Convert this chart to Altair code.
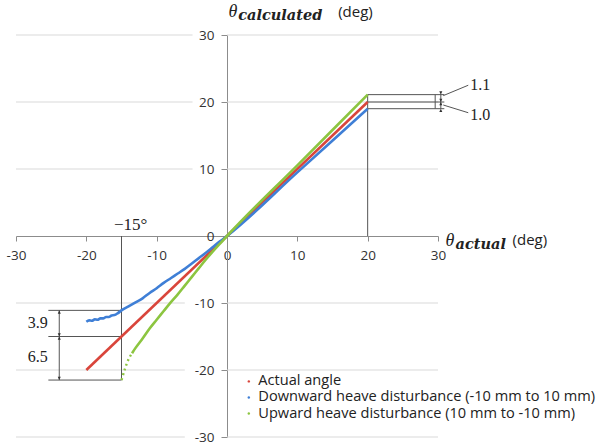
import altair as alt
import pandas as pd

# ---- data ----
actual_x = [-20, 20]
actual_y = [-20, 20]

down_x = [-20, -19.6, -19.2, -18.8, -18.4, -18, -17.6, -17.2, -16.8, -16.4, -16, -15.5, -15,
          -14, -13, -12, -11, -10, -9, -8, -7, -6, -5, -4, -3, -2, -1, 0, 10, 20]
down_y = [-12.8, -12.6, -12.65, -12.45, -12.5, -12.3, -12.3, -12.1, -12.1, -11.85, -11.8, -11.5, -11.1,
          -10.5, -9.9, -9.3, -8.5, -7.8, -7.0, -6.3, -5.6, -4.9, -4.1, -3.3, -2.5, -1.65, -0.8, 0, 9.5, 19.0]

up_x = [-15, -14.5, -14, -13.5, -13, -12, -11, -10, -9, -8, -7, -6, -5, -4, -3, -2, -1, 0, 10, 20]
up_y = [-21.5, -19.8, -18.4, -17.5, -16.7, -15.3, -13.8, -12.5, -11.2, -9.9, -8.7, -7.4, -6.1,
        -4.8, -3.5, -2.3, -1.15, 0, 10.55, 21.1]

series_names = ["Actual angle",
                "Downward heave disturbance (-10 mm to 10 mm)",
                "Upward heave disturbance (10 mm to -10 mm)"]
series_colors = ["#d9453b", "#3f7fd6", "#8cc540"]

tick_values = [-30, -20, -10, 0, 10, 20, 30]
grid_values = [-30, -20, -10, 10, 20, 30]
grid_left_end = [-6.0, -6.0, -6.0, -4.9, -4.9, -4.9]

# dimension values
angle_mark = -15
at_m15 = [-11.1, -15, -21.5]       # blue, red, green at -15
at_20 = [21.1, 20, 19.0]            # green, red, blue at 20
dim_labels_left = ["3.9", "6.5"]
dim_labels_right = ["1.1", "1.0"]

W, H = 422, 402
xs = alt.Scale(domain=[-30, 30], nice=False, zero=False)
ys = alt.Scale(domain=[-30, 30], nice=False, zero=False)
common_axis = dict(values=tick_values, grid=False, labelFontSize=13.5,
                   labelFont="Open Sans", labelColor="#333333",
                   labelExpr="'' + datum.value",
                   domainColor="#8c8c8c", tickColor="#8c8c8c", labelFlush=False)
x_axis = alt.Axis(orient="bottom", offset=-201, tickSize=5, labelPadding=7, **common_axis)
y_axis = alt.Axis(orient="left", offset=-211, tickSize=6, labelPadding=7, **common_axis)
X = lambda f="x": alt.X(f, type="quantitative", scale=xs, axis=x_axis, title=None)
Y = lambda f="y": alt.Y(f, type="quantitative", scale=ys, axis=y_axis, title=None)
DIM = "#555555"

# ---- gridlines ----
grid_df = pd.DataFrame({"y": grid_values * 2,
                        "x": grid_left_end + [0] * 6,
                        "x2": [-30] * 6 + [30] * 6})
grid = alt.Chart(grid_df).mark_rule(color="#d9d9d9", strokeWidth=1).encode(
    x=X(), x2="x2", y=Y())

# ---- dimension lines ----
hl = pd.DataFrame({"x": [-25.4] * 3 + [20] * 3, "x2": [-15] * 3 + [30.9] * 3,
                   "y": at_m15 + at_20})
hlines = alt.Chart(hl).mark_rule(color=DIM, strokeWidth=1).encode(x=X(), x2="x2", y=Y())
vl = pd.DataFrame({"x": [angle_mark, 20, 29.6, -23.85, 30.4],
                   "y": [0, 0, at_20[2], at_m15[0], at_20[2]],
                   "y2": [at_m15[2], at_20[0], at_20[0], at_m15[2], at_20[0]]})
vlines = alt.Chart(vl).mark_rule(color=DIM, strokeWidth=1).encode(x=X(), y=Y(), y2="y2")

up_path = "M0,0 L-0.55,1.2 L0.55,1.2 Z"
down_path = "M0,0 L-0.55,-1.2 L0.55,-1.2 Z"
arr_up = pd.DataFrame({"x": [-23.85, -23.85, 30.4, 30.4],
                       "y": [at_m15[0], at_m15[1], at_20[1], at_20[2]]})
arr_dn = pd.DataFrame({"x": [-23.85, -23.85, 30.4, 30.4],
                       "y": [at_m15[1], at_m15[2], at_20[0], at_20[1]]})
arrows_up = alt.Chart(arr_up).mark_point(shape=up_path, filled=True, size=30, color="#333",
                                         opacity=1).encode(x=X(), y=Y())
arrows_dn = alt.Chart(arr_dn).mark_point(shape=down_path, filled=True, size=30, color="#333",
                                         opacity=1).encode(x=X(), y=Y())

lead = pd.DataFrame({"x": [30.75, 30.75], "x2": [34.3, 34.3],
                     "y": [20.95, 19.55], "y2": [22.5, 18.4]})
leaders = alt.Chart(lead).mark_rule(color=DIM, strokeWidth=1).encode(
    x=X(), x2="x2", y=Y(), y2="y2")

# ---- series ----
def series(xv, yv, color, width=2.6, dash=None):
    df = pd.DataFrame({"x": xv, "y": yv})
    kw = dict(color=color, strokeWidth=width, interpolate="monotone")
    if dash:
        kw["strokeDash"] = dash
    return alt.Chart(df).mark_line(**kw).encode(x=X(), y=Y())

red = series(actual_x, actual_y, series_colors[0])
blue = series(down_x, down_y, series_colors[1])
green_dot = series(up_x[:4], up_y[:4], series_colors[2], width=2.4, dash=[2, 3])
green = series(up_x[3:], up_y[3:], series_colors[2])

# ---- texts ----
def text(df, **kw):
    base = dict(font="Open Sans", fontSize=14, color="#222222", align="left", baseline="middle")
    base.update(kw)
    return alt.Chart(pd.DataFrame(df)).mark_text(**base).encode(x=X(), y=Y(), text="t:N")

serif = "Liberation Serif"
t_dims = text({"x": [-26.9, -26.9], "y": [-13.0, -18.1], "t": dim_labels_left},
              font=serif, fontSize=16, align="center")
t_dims_r = text({"x": [34.6, 34.6], "y": [22.5, 18.0], "t": dim_labels_right},
                font=serif, fontSize=16)
t_angle = text({"x": [-13.7], "y": [1.7], "t": ["\u221215\u00b0"]}, font=serif, fontSize=17,
               align="center")

t_theta = text({"x": [0.85, 31.7], "y": [33.4, -0.7], "t": ["\u03b8", "\u03b8"]},
               font=serif, fontSize=18, fontStyle="italic", align="center")
t_sub = text({"x": [1.6, 32.5], "y": [32.8, -1.3], "t": ["calculated", "actual"]},
             font="DejaVu Serif", fontSize=14.5, fontStyle="italic", fontWeight="bold")
t_deg = text({"x": [15.8, 40.6], "y": [33.5, -0.6], "t": ["(deg)", "(deg)"]},
             fontSize=15)

# ---- legend ----
leg_y = [-21.7, -24.1, -26.5]
leg_df = pd.DataFrame({"x": [3.1] * 3, "y": leg_y, "s": series_names})
leg_dots = alt.Chart(leg_df).mark_point(shape="circle", filled=True, size=6, opacity=1).encode(
    x=X(), y=Y(),
    color=alt.Color("s:N", scale=alt.Scale(domain=series_names, range=series_colors), legend=None))
leg_text = text({"x": [4.45] * 3, "y": leg_y, "t": series_names}, fontSize=14.6)

chart = alt.layer(
    grid, hlines, vlines, red, blue, green_dot, green, leaders, arrows_up, arrows_dn,
    t_dims, t_dims_r, t_angle, t_theta, t_sub, t_deg, leg_dots, leg_text
).properties(
    width=W, height=H,
    autosize=alt.AutoSizeParams(type="none"),
    padding={"left": 16, "top": 35, "right": 175, "bottom": 9},
).configure_view(stroke=None).configure_axis(zindex=1)

chart.save("out.html", embed_options={"renderer": "svg", "actions": False})
